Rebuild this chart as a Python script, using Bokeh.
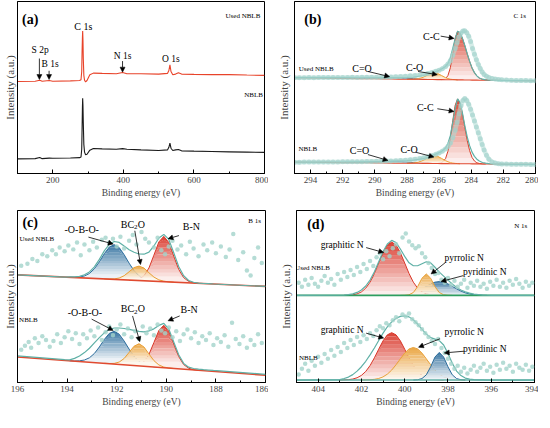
import numpy as np
from bokeh.plotting import figure
from bokeh.models import Range1d, Label, Arrow, NormalHead, FixedTicker, SingleIntervalTicker
from bokeh.layouts import row, column
from bokeh.embed import file_html
from bokeh.resources import INLINE

SERIF = "Liberation Serif"
TEAL = "#5fb0a6"
DOT = "#a3d3cb"

# ---------------- (a) survey ----------------
a_x = [100, 150, 163, 170, 190, 200, 250, 276, 280, 282, 283, 284, 284.7, 285.5, 286.5, 288, 290, 293, 297, 305,
       315, 340, 380, 398, 410, 450, 500, 525, 529, 532, 535, 540, 548, 556, 565, 600, 650, 700, 750, 800]
a_used = [94.7, 95.0, 96.0, 95.0, 95.7, 95.0, 95.3, 95.7, 96.5, 105, 125, 140, 146.7, 138, 118, 101, 96, 94.3, 95.7, 101.5,
          103.3, 103.0, 102.7, 104.0, 102.7, 102.7, 102.3, 103.0, 106.0, 111.7, 105.0, 101.7, 102.3, 103.7, 102.3, 102.0,
          101.7, 101.7, 101.3, 101.0]
a_nblb = [15.0, 15.3, 16.5, 15.3, 15.8, 15.7, 16.0, 16.3, 17.0, 25, 45, 68, 77.3, 70, 52, 30, 22, 19.3, 19.8, 24.0,
          25.7, 25.3, 25.0, 25.6, 25.0, 24.3, 23.7, 24.3, 27.0, 31.3, 26.0, 23.7, 24.3, 24.7, 23.3, 23.0, 22.7, 22.3,
          22.0, 21.7]

# ---------------- (b) C 1s ----------------
b_x = [295.0, 294.0, 293.0, 292.0, 291.0, 290.5, 290.0, 289.5, 289.0, 288.5, 288.0, 287.6, 287.3, 287.0, 286.7,
       286.4, 286.1, 285.85, 285.6, 285.45, 285.3, 285.15, 285.0, 284.85, 284.7, 284.55, 284.4, 284.25, 284.1,
       283.95, 283.8, 283.65, 283.5, 283.3, 283.1, 282.9, 282.6, 282.3, 282.0, 281.5, 281.0, 280.5, 280.0]
bu_base = [97.6, 97.4, 97.2, 97.0, 96.7, 96.6, 96.5, 96.4, 96.3, 96.2, 96.1, 96.0, 96.0, 95.9, 95.8, 95.8, 95.7,
           95.7, 95.6, 95.6, 95.5, 95.5, 95.5, 95.4, 95.4, 95.4, 95.3, 95.3, 95.3, 95.2, 95.2, 95.2, 95.1, 95.1,
           95.1, 95.0, 95.0, 94.9, 94.8, 94.7, 94.6, 94.5, 94.4]
bu_cc = [0] * 18 + [1.0, 4.2, 12.3, 26.7, 42.4, 49.5, 47.6, 42.4, 35.0, 26.7, 18.9, 12.3, 7.5, 4.2, 2.2, 0.8, 0.3,
                    0.1] + [0] * 7
bu_co = [0] * 11 + [0.1, 0.6, 2.1, 4.7, 6.8, 6.3, 4.2, 2.1, 1.2, 0.6, 0.3, 0.1] + [0] * 20
bu_ceo = [0] * 4 + [0.2, 0.5, 0.9, 1.3, 1.5, 1.3, 0.9, 0.6, 0.35, 0.2, 0.1] + [0] * 28
bu_env = [0.1, 0.3, 0.5, 0.7, 0.9, 1.0, 1.1, 1.3, 1.5, 1.6, 1.8, 2.2, 2.9, 4.0, 5.6, 7.4, 8.8, 10.8, 13.5, 16.5,
          22.5, 32.0, 42.0, 49.6, 48.2, 42.6, 35.2, 26.8, 19.0, 12.4, 7.6, 4.3, 2.3, 1.0, 0.4, 0.2, 0.1, 0.1, 0.1,
          0.0, 0.0, 0.0, 0.0]
bl_base = [11.6, 11.4, 11.3, 11.1, 11.0, 10.9, 10.8, 10.7, 10.6, 10.6, 10.5, 10.4, 10.4, 10.3, 10.3, 10.2, 10.2,
           10.1, 10.1, 10.1, 10.0, 10.0, 10.0, 10.0, 9.9, 9.9, 9.9, 9.9, 9.9, 9.8, 9.8, 9.8, 9.8, 9.7, 9.7, 9.7, 9.6,
           9.6, 9.5, 9.4, 9.4, 9.3, 9.2]
bl_cc = [0] * 17 + [0.7, 5.0, 12.6, 26.1, 43.7, 59.5, 66.0, 61.9, 51.1, 37.2, 23.8, 13.4, 6.6, 2.9, 1.1, 0.4,
                    0.1] + [0] * 9
bl_co = [0] * 11 + [0.3, 1.1, 3.0, 5.8, 7.8, 7.4, 5.3, 3.0, 1.9, 1.1, 0.6, 0.3, 0.1] + [0] * 19
bl_ceo = [0] * 4 + [0.2, 0.6, 1.1, 1.6, 1.8, 1.6, 1.1, 0.7, 0.4, 0.2, 0.1] + [0] * 28
bl_env = [0.1, 0.2, 0.4, 0.6, 0.9, 1.0, 1.2, 1.6, 2.0, 2.4, 2.7, 3.3, 4.0, 4.9, 6.3, 8.3, 10.3, 12.4, 15.9, 20.5,
          28.5, 42.0, 56.5, 66.0, 62.5, 52.0, 39.0, 27.5, 18.5, 12.0, 7.7, 4.8, 2.9, 1.5, 0.8, 0.4, 0.2, 0.1, 0.1,
          0.0, 0.0, 0.0, 0.0]
b_dx = [295.0, 294.7, 294.4, 294.1, 293.8, 293.5, 293.2, 292.9, 292.6, 292.3, 292.0, 291.7, 291.4, 291.1, 290.8,
        290.5, 290.2, 289.9, 289.6, 289.3, 289.0, 288.7, 288.4, 288.1, 287.8, 287.5, 287.2, 286.95, 286.7, 286.45,
        286.2, 286.0, 285.8, 285.6, 285.45, 285.3, 285.15, 285.0, 284.88, 284.76, 284.64, 284.52, 284.4, 284.28,
        284.16, 284.04, 283.92, 283.8, 283.68, 283.56, 283.44, 283.32, 283.2, 283.05, 282.9, 282.7, 282.5, 282.3,
        282.1, 281.8, 281.5, 281.2, 280.9, 280.6, 280.3, 280.0]
bu_dat = [97.7, 97.7, 97.7, 97.8, 97.7, 97.8, 97.8, 97.8, 97.9, 97.8, 97.9, 97.9, 98.0, 97.9, 98.0, 98.0, 98.1,
          98.1, 98.2, 98.3, 98.4, 98.6, 98.8, 99.1, 99.5, 99.9, 100.5, 101.2, 102.0, 103.0, 104.2, 105.3, 106.8,
          109.0, 111.5, 115.0, 120.5, 127.5, 133.5, 139.0, 143.0, 145.3, 145.5, 143.5, 140.0, 134.5, 127.5, 121.5,
          116.0, 111.0, 107.0, 103.5, 101.0, 99.0, 97.8, 96.8, 96.2, 95.8, 95.5, 95.2, 95.0, 94.9, 94.8, 94.7,
          94.6, 94.5]
bl_dat = [11.5, 11.5, 11.6, 11.6, 11.6, 11.7, 11.7, 11.7, 11.8, 11.8, 11.9, 11.9, 12.0, 12.0, 12.1, 12.2, 12.3,
          12.4, 12.5, 12.7, 12.8, 13.0, 13.3, 13.6, 14.0, 14.5, 15.2, 16.0, 17.0, 18.2, 19.6, 21.0, 22.8, 25.0,
          27.5, 31.0, 36.5, 44.0, 52.0, 61.0, 69.0, 74.5, 76.5, 74.5, 70.5, 65.5, 59.5, 53.5, 47.5, 41.5, 35.5,
          29.5, 24.0, 18.5, 14.5, 11.8, 10.6, 10.0, 9.8, 9.6, 9.5, 9.5, 9.4, 9.4, 9.3, 9.3]

# ---------------- (c) B 1s ----------------
c_ends_x = [196.0, 186.0]
c_x = [194.1, 193.9, 193.7, 193.5, 193.3, 193.1, 192.9, 192.7, 192.5, 192.3, 192.1, 191.9, 191.7, 191.5, 191.3,
       191.1, 190.9, 190.7, 190.5, 190.3, 190.1, 189.9, 189.7, 189.5, 189.3, 189.1, 188.9, 188.7, 188.5, 188.3, 188.1]
cu_ends = [111.6, 99.6]
cu_base = [109.3, 109.1, 108.8, 108.6, 108.4, 108.1, 107.9, 107.6, 107.4, 107.2, 106.9, 106.7, 106.4, 106.2, 106.0,
           105.7, 105.5, 105.2, 105.0, 104.8, 104.5, 104.3, 104.0, 103.8, 103.6, 103.3, 103.1, 102.8, 102.6, 102.4,
           102.1]
cu_bob = [0, 0, 0.2, 0.7, 2.0, 4.9, 10.0, 17.5, 26.1, 33.2, 36.0, 33.2, 26.1, 17.5, 10.0, 4.9, 2.0, 0.7, 0.2] + [0] * 12
cu_bc2o = [0] * 9 + [0.1, 0.5, 1.6, 4.3, 8.6, 13.1, 15.0, 13.1, 8.6, 4.3, 1.6, 0.5, 0.1] + [0] * 9
cu_bn = [0] * 14 + [0.3, 1.5, 5.1, 13.5, 27.0, 40.9, 47.0, 40.9, 27.0, 13.5, 5.1, 1.5, 0.3] + [0] * 4
cu_env = [0.0, 0.3, 0.6, 1.5, 3.2, 6.5, 12.0, 20.0, 29.0, 36.0, 39.3, 38.5, 35.0, 31.5, 29.0, 27.5, 27.5, 30.0,
          36.5, 45.0, 49.0, 44.0, 30.5, 16.5, 7.0, 2.5, 0.8, 0.2, 0.0, 0.0, 0.0]
cu_env_ends = [0.0, 0.0]
cl_ends = [26.5, 7.5]
cl_base = [22.9, 22.5, 22.1, 21.8, 21.4, 21.0, 20.6, 20.2, 19.9, 19.5, 19.1, 18.7, 18.3, 18.0, 17.6, 17.2, 16.8,
           16.4, 16.1, 15.7, 15.3, 14.9, 14.5, 14.2, 13.8, 13.4, 13.0, 12.6, 12.3, 11.9, 11.5]
cl_bob = [0, 0, 0.2, 0.7, 1.9, 4.6, 9.5, 16.6, 24.7, 31.4, 34.0, 31.4, 24.7, 16.6, 9.5, 4.6, 1.9, 0.7, 0.2] + [0] * 12
cl_bc2o = [0] * 9 + [0.2, 0.7, 2.5, 6.6, 13.2, 20.0, 23.0, 20.0, 13.2, 6.6, 2.5, 0.7, 0.2] + [0] * 9
cl_bn = [0] * 14 + [0.3, 1.4, 4.8, 12.7, 25.3, 38.3, 44.0, 38.3, 25.3, 12.7, 4.8, 1.4, 0.3] + [0] * 4
cl_env = [0.8, 1.0, 2.9, 5.7, 9.6, 14.5, 20.4, 26.3, 31.6, 35.5, 37.4, 37.8, 37.7, 37.0, 36.4, 35.8, 35.7, 37.1,
          39.5, 43.5, 46.0, 40.5, 27.5, 14.5, 6.0, 2.5, 1.5, 1.2, 1.0, 1.0, 1.0]
cl_env_ends = [1.0, 1.0]
cu_dx = [195.85, 195.6, 195.4, 195.2, 195.0, 194.8, 194.6, 194.45, 194.3, 194.1, 193.95, 193.75, 193.6, 193.45,
         193.3, 193.1, 192.95, 192.8, 192.6, 192.45, 192.3, 192.15, 192.0, 191.85, 191.7, 191.5, 191.35, 191.2,
         191.0, 190.85, 190.7, 190.5, 190.35, 190.2, 190.05, 189.9, 189.75, 189.55, 189.4, 189.2, 189.05, 188.9,
         188.7, 188.5, 188.35, 188.15, 188.0, 187.8, 187.6, 187.45, 187.3, 187.1, 186.9, 186.75, 186.6, 186.45,
         186.3, 186.15]
cu_dy = [121, 123, 128, 126, 133, 131, 137, 133, 140, 136, 142, 138, 145, 132, 143, 137, 146, 140, 148, 150, 145,
         149, 141, 151, 139, 147, 153, 143, 156, 149, 145, 140, 150, 137, 133, 141, 147, 138, 142, 133, 146, 139,
         131, 143, 137, 145, 134, 141, 130, 138, 154, 127, 135, 116, 111, 129, 140, 124]
cl_dx = [195.85, 195.7, 195.55, 195.45, 195.3, 195.15, 195.0, 194.85, 194.7, 194.55, 194.4, 194.25, 194.1, 193.95,
         193.8, 193.65, 193.5, 193.35, 193.2, 193.05, 192.9, 192.75, 192.6, 192.45, 192.3, 192.15, 192.0, 191.85,
         191.7, 191.55, 191.4, 191.25, 191.1, 190.95, 190.8, 190.65, 190.5, 190.35, 190.2, 190.05, 189.9, 189.75,
         189.6, 189.45, 189.3, 189.15, 189.0, 188.85, 188.7, 188.55, 188.4, 188.25, 188.1, 187.95, 187.8, 187.65,
         187.5, 187.35, 187.2, 187.05, 186.9, 186.75, 186.6, 186.45, 186.3, 186.15]
cl_dy = [34, 38, 42, 36, 46, 41, 48, 44, 37, 43, 50, 41, 47, 53, 45, 51, 40, 50, 46, 54, 48, 57, 44, 52, 58, 49, 55,
         60, 50, 56, 47, 53, 45, 58, 51, 56, 49, 60, 54, 51, 57, 47, 53, 43, 50, 55, 46, 52, 41, 48, 44, 51, 39, 46,
         42, 49, 37, 62, 45, 40, 48, 36, 44, 39, 50, 41]

# ---------------- (d) N 1s ----------------
d_ends_x = [405.0, 394.0]
d_x = [403.0, 402.8, 402.6, 402.4, 402.2, 402.0, 401.8, 401.6, 401.4, 401.2, 401.0, 400.8, 400.6, 400.4, 400.2,
       400.0, 399.8, 399.6, 399.4, 399.2, 399.0, 398.8, 398.6, 398.4, 398.2, 398.0, 397.8, 397.6, 397.4, 397.2,
       397.0, 396.8, 396.6, 396.4, 396.2, 396.0]
du_base = [88.3, 88.3]
du_gra = [0, 0, 0.2, 0.6, 1.5, 3.5, 7.3, 13.4, 22.2, 32.8, 43.3, 51.1, 54.0, 51.1, 43.3, 32.8, 22.2, 13.4, 7.3, 3.5,
          1.5, 0.6, 0.2] + [0] * 13
du_pyrr = [0] * 15 + [0.1, 0.6, 2.9, 8.9, 17.4, 21.7, 17.4, 8.9, 2.9, 0.6, 0.1] + [0] * 10
du_pyri = [0] * 13 + [0.1, 0.3, 0.7, 1.4, 2.5, 4.3, 6.6, 9.1, 11.6, 13.4, 14.0, 13.4, 11.6, 9.1, 6.6, 4.3, 2.5, 1.4,
                      0.7, 0.3, 0.1] + [0] * 2
du_env = [0.1, 0.3, 0.7, 1.5, 3.0, 5.5, 9.5, 15.5, 24.0, 34.0, 44.5, 52.0, 55.7, 53.5, 47.0, 39.5, 33.0, 30.0, 30.0,
          32.0, 34.0, 33.0, 28.5, 23.5, 19.5, 15.5, 11.5, 8.0, 5.5, 3.5, 2.2, 1.3, 0.7, 0.3, 0.1, 0.0]
dl_base = [2.5, 2.5]
dl_gra = [0, 0.2, 0.4, 1.0, 2.3, 4.7, 8.7, 14.7, 22.5, 31.3, 39.7, 45.8, 48.0, 45.8, 39.7, 31.3, 22.5, 14.7, 8.7,
          4.7, 2.3, 1.0, 0.4, 0.2] + [0] * 12
dl_pyrr = [0] * 6 + [0.1, 0.3, 0.7, 1.6, 3.2, 6.0, 10.1, 15.5, 21.5, 27.3, 31.5, 33.0, 31.5, 27.3, 21.5, 15.5, 10.1,
                     6.0, 3.2, 1.6, 0.7, 0.3, 0.1] + [0] * 7
dl_pyri = [0] * 18 + [0.3, 1.5, 5.3, 13.4, 23.3, 28.0, 23.3, 13.4, 5.3, 1.5, 0.3] + [0] * 7
dl_env = [0.5, 1.5, 3.0, 5.5, 9.0, 13.5, 19.0, 25.5, 32.5, 40.0, 47.5, 54.0, 59.0, 62.5, 64.5, 65.0, 64.0, 61.0,
          56.5, 51.5, 46.5, 43.0, 41.5, 40.0, 35.5, 27.0, 17.0, 9.0, 4.5, 2.0, 1.0, 0.5, 0.2, 0.1, 0.0, 0.0]
d_dx = [404.9, 404.75, 404.6, 404.45, 404.3, 404.15, 404.0, 403.85, 403.7, 403.55, 403.4, 403.25, 403.1, 402.95,
        402.8, 402.65, 402.5, 402.35, 402.2, 402.05, 401.9, 401.75, 401.6, 401.45, 401.3, 401.15, 401.0, 400.85,
        400.7, 400.55, 400.4, 400.25, 400.1, 399.95, 399.8, 399.65, 399.5, 399.35, 399.2, 399.05, 398.9, 398.75,
        398.6, 398.45, 398.3, 398.15, 398.0, 397.85, 397.7, 397.55, 397.4, 397.25, 397.1, 396.95, 396.8, 396.65,
        396.5, 396.35, 396.2, 396.05, 395.9, 395.75, 395.6, 395.45, 395.3, 395.15, 395.0, 394.85, 394.7, 394.55,
        394.4, 394.25, 394.1]
du_dy = [101, 97, 104, 99, 106, 100, 97, 103, 108, 101, 105, 99, 110, 104, 112, 107, 114, 109, 117, 112, 120, 115,
         123, 118, 127, 131, 125, 133, 128, 136, 140, 131, 147, 151, 143, 139, 136, 138, 131, 127, 121, 116, 110,
         111, 104, 101, 106, 99, 103, 97, 100, 104, 96, 101, 98, 103, 97, 100, 95, 102, 98, 104, 97, 101, 96, 103,
         99, 105, 100, 96, 102, 98, 101]
dl_dy = [8, 14, 19, 12, 22, 17, 26, 20, 29, 24, 33, 27, 36, 31, 40, 35, 43, 38, 46, 41, 48, 44, 50, 47, 53, 57, 55,
         60, 58, 63, 66, 62, 69, 67, 70, 64, 61, 58, 54, 50, 46, 42, 39, 44, 35, 30, 24, 19, 14, 17, 11, 15, 9, 13,
         17, 11, 15, 19, 12, 16, 10, 18, 13, 20, 14, 17, 11, 19, 15, 13, 18, 12, 16]


# ---------------- helpers ----------------
def blend(color, t):
    h = color.lstrip("#")
    r, g, b = (int(h[i:i + 2], 16) for i in (0, 2, 4))
    return "#%02x%02x%02x" % (round(255 + (r - 255) * t), round(255 + (g - 255) * t), round(255 + (b - 255) * t))


def make_panel(x0, x1, ymax, fw, bl, br, bt, bb, interval, ystand):
    p = figure(frame_width=fw, frame_height=172, x_range=Range1d(x0, x1), y_range=Range1d(0, ymax),
               output_backend="svg", toolbar_location=None,
               min_border_left=bl, min_border_right=br, min_border_top=bt, min_border_bottom=bb)
    p.xgrid.visible = False
    p.ygrid.visible = False
    p.outline_line_color = "black"
    p.outline_line_width = 1
    p.outline_line_alpha = 1.0
    xa = p.xaxis[0]
    xa.ticker = SingleIntervalTicker(interval=interval, num_minor_ticks=2)
    xa.axis_label = "Binding energy (eV)"
    xa.axis_label_text_font = SERIF
    xa.axis_label_text_font_size = "9.5px"
    xa.axis_label_text_font_style = "normal"
    xa.axis_label_standoff = 2
    xa.major_label_text_font = SERIF
    xa.major_label_text_font_size = "9px"
    xa.major_label_standoff = 3
    xa.major_tick_in = 4
    xa.major_tick_out = 0
    xa.minor_tick_in = 2
    xa.minor_tick_out = 0
    xa.axis_line_color = "black"
    ya = p.yaxis[0]
    ya.ticker = FixedTicker(ticks=[])
    ya.axis_label = "Intensity (a.u.)"
    ya.axis_label_text_font = SERIF
    ya.axis_label_text_font_size = "11px"
    ya.axis_label_text_font_style = "normal"
    ya.axis_label_standoff = ystand
    ya.major_label_standoff = 0
    ya.major_tick_in = 0
    ya.major_tick_out = 0
    ya.minor_tick_in = 0
    ya.minor_tick_out = 0
    return p


def component(p, x, base, comp, color, n=12):
    x = np.asarray(x, dtype=float)
    comp = np.asarray(comp, dtype=float)
    base = np.broadcast_to(np.asarray(base, dtype=float), x.shape)
    nz = np.nonzero(comp > 0)[0]
    lo = max(nz[0] - 1, 0)
    hi = min(nz[-1] + 2, len(x))
    xs, bs = x[lo:hi], base[lo:hi]
    ts = bs + comp[lo:hi]
    b0, t0 = bs.max(), ts.max()
    for k in range(n):
        l0 = b0 + (t0 - b0) * k / n
        l1 = b0 + (t0 - b0) * (k + 1) / n
        y1 = bs if k == 0 else np.minimum(ts, l0)
        y2 = ts if k == n - 1 else np.minimum(ts, l1 + 0.15)
        p.varea(x=xs, y1=y1, y2=y2, fill_color=blend(color, 0.05 + 0.9 * (k + 0.5) / n), fill_alpha=1.0)
    p.line(xs, ts, line_color=color, line_width=1.0)


def T(p, x, y, s, size="10px", bold=False, align="center", dx=0, dy=0):
    p.add_layout(Label(x=x, y=y, text=s, text_font=SERIF, text_font_size=size, text_align=align,
                       text_baseline="middle", text_color="black", x_offset=dx, y_offset=dy,
                       text_font_style="bold" if bold else "normal"))


def T_sub(p, x, y):
    # "BC" + subscript "2" + "O", centred on x
    T(p, x, y, "BC", "10px", align="right", dx=1)
    T(p, x, y, "2", "7px", align="left", dx=1, dy=-3)
    T(p, x, y, "O", "10px", align="left", dx=4.6)


def A(p, x0, y0, x1, y1):
    p.add_layout(Arrow(end=NormalHead(size=5, fill_color="black", line_color="black", line_width=0.5),
                       x_start=x0, y_start=y0, x_end=x1, y_end=y1, line_color="black", line_width=0.8))


# ---------------- panel (a) ----------------
pa = make_panel(100, 800, 177, 247, 13, 4, 1, 31, 200, 2)
pa.line(a_x, a_used, line_color="#e8432a", line_width=1.1)
pa.line(a_x, a_nblb, line_color="#1a1a1a", line_width=1.1)
T(pa, 135.8, 158.3, "(a)", "14px", True)
T(pa, 738.8, 162.3, "Used NBLB", "7px")
T(pa, 769, 81, "NBLB", "7px")
T(pa, 286.5, 151.7, "C 1s", "10px")
T(pa, 164, 126.7, "S 2p", "9.5px")
T(pa, 192.3, 112.3, "B 1s", "9.5px")
T(pa, 397.7, 120.7, "N 1s", "9.5px")
T(pa, 534.3, 118.3, "O 1s", "9.5px")
A(pa, 162, 118.3, 162, 96.7)
A(pa, 189.5, 105.7, 189.5, 96.7)
A(pa, 397.7, 115.7, 397.7, 104.3)

# ---------------- panel (b) ----------------
pb = make_panel(295, 280, 175.3, 241, 26, 3, 1, 31, 2, 5)
for base, cc, co, ceo, env, dat in [(bu_base, bu_cc, bu_co, bu_ceo, bu_env, bu_dat),
                                    (bl_base, bl_cc, bl_co, bl_ceo, bl_env, bl_dat)]:
    component(pb, b_x, base, ceo, "#3d6fb0")
    component(pb, b_x, base, cc, "#d8402c")
    component(pb, b_x, base, co, "#eea33a")
    pb.line(b_x, base, line_color="#e04a30", line_width=1.1)
    pb.line(b_x, list(np.array(base) + np.array(env)), line_color=TEAL, line_width=1.2)
    pb.line(b_dx, dat, line_color="#b3dcd6", line_width=4.5, line_alpha=0.55)
    pb.scatter(b_dx, dat, size=5, fill_color="#9fd1ca", line_color=None, fill_alpha=0.6)
T(pb, 293.86, 157.3, "(b)", "14px", True)
T(pb, 280.98, 160.7, "C 1s", "7px")
T(pb, 293.65, 106, "Used NBLB", "7px")
T(pb, 294.17, 25, "NBLB", "7px")
T(pb, 286.48, 139.3, "C-C")
A(pb, 285.9, 140, 285.07, 137.7)
T(pb, 287.52, 108, "C-O")
A(pb, 287.31, 104, 286.11, 100.7)
T(pb, 290.8, 106.7, "C=O")
A(pb, 290.43, 104, 289.08, 98.7)
T(pb, 286.86, 67.3, "C-C")
A(pb, 286.11, 66, 285.07, 63.3)
T(pb, 287.87, 24.7, "C-O")
A(pb, 287.46, 21.7, 286.32, 16.7)
T(pb, 290.95, 23.3, "C=O")
A(pb, 290.43, 19.3, 289.18, 13.3)

# ---------------- panel (c) ----------------
pc = make_panel(196, 186, 178.3, 248, 13, 3, 6, 30, 2, 2)
for ends, base, bob, bc2o, bn, env, eends, dx, dy in [
        (cu_ends, cu_base, cu_bob, cu_bc2o, cu_bn, cu_env, cu_env_ends, cu_dx, cu_dy),
        (cl_ends, cl_base, cl_bob, cl_bc2o, cl_bn, cl_env, cl_env_ends, cl_dx, cl_dy)]:
    component(pc, c_x, base, bob, "#2f6f9e")
    component(pc, c_x, base, bn, "#d9382a")
    component(pc, c_x, base, bc2o, "#eaa035")
    pc.line(c_ends_x, ends, line_color="#e04a30", line_width=1.6)
    ex = [c_ends_x[0]] + c_x + [c_ends_x[1]]
    ey = [ends[0] + eends[0]] + list(np.array(base) + np.array(env)) + [ends[1] + eends[1]]
    pc.line(ex, ey, line_color=TEAL, line_width=1.2)
    pc.scatter(dx, dy, size=4.5, fill_color=DOT, line_color=None, fill_alpha=0.8)
T(pc, 195.49, 165.7, "(c)", "14px", True)
T(pc, 186.44, 167.3, "B 1s", "7px")
T(pc, 195.22, 149, "Used NBLB", "7px")
T(pc, 195.56, 65, "NBLB", "7px")
T(pc, 193.41, 158.3, "-O-B-O-")
A(pc, 193.14, 150.7, 192.14, 143.5)
T_sub(pc, 191.34, 164)
A(pc, 191.27, 157.3, 191.04, 122.3)
T(pc, 188.99, 161.7, "B-N")
A(pc, 189.49, 152.3, 189.93, 149)
T(pc, 193.28, 72.3, "-O-B-O-")
A(pc, 193.01, 65.7, 192.14, 54)
T_sub(pc, 191.34, 76.3)
A(pc, 191.36, 69, 191.07, 42.3)
T(pc, 189.08, 75.7, "B-N")
A(pc, 189.46, 69, 189.93, 64)

# ---------------- panel (d) ----------------
pd_ = make_panel(405, 394, 174.3, 238, 28, 4, 6, 30, 2, 5)
component(pd_, d_x, du_base[0], du_pyri, "#2f6e9c")
component(pd_, d_x, du_base[0], du_gra, "#d9382a")
component(pd_, d_x, du_base[0], du_pyrr, "#e9a23a")
pd_.line(d_ends_x, du_base, line_color="#2e9e60", line_width=1.6)
pd_.line([d_ends_x[0]] + d_x + [d_ends_x[1]],
         [du_base[0]] + list(du_base[0] + np.array(du_env)) + [du_base[1]], line_color=TEAL, line_width=1.2)
pd_.scatter(d_dx, du_dy, size=4.5, fill_color=DOT, line_color=None, fill_alpha=0.8)
component(pd_, d_x, dl_base[0], dl_gra, "#d9382a")
component(pd_, d_x, dl_base[0], dl_pyrr, "#e9a23a")
component(pd_, d_x, dl_base[0], dl_pyri, "#2f6e9c")
pd_.line(d_ends_x, dl_base, line_color=TEAL, line_width=1.6)
pd_.line([d_ends_x[0]] + d_x + [d_ends_x[1]],
         [dl_base[0]] + list(dl_base[0] + np.array(dl_env)) + [dl_base[1]], line_color=TEAL, line_width=1.2)
pd_.scatter(d_dx, dl_dy, size=4.5, fill_color=DOT, line_color=None, fill_alpha=0.8)
T(pd_, 404.11, 160, "(d)", "14px", True)
T(pd_, 394.64, 159, "N 1s", "7px")
T(pd_, 404.26, 115.7, "Used NBLB", "7px")
T(pd_, 404.45, 25, "NBLB", "7px")
T(pd_, 402.89, 139, "graphitic N", "9.5px")
A(pd_, 401.78, 136.7, 400.97, 131.7)
T(pd_, 397.25, 125.7, "pyrrolic N", "9.5px")
A(pd_, 398.11, 121.7, 398.78, 110)
T(pd_, 396.3, 112.3, "pyridinic N", "9.5px")
A(pd_, 397.29, 108.3, 398.32, 102.3)
T(pd_, 402.89, 53.3, "graphitic N", "9.5px")
A(pd_, 401.78, 50, 400.97, 45)
T(pd_, 397.25, 50.7, "pyrrolic N", "9.5px")
A(pd_, 398.37, 44.3, 399.36, 35.7)
T(pd_, 396.3, 34.3, "pyridinic N", "9.5px")
A(pd_, 397.25, 31.7, 398.17, 30)

layout = column(row(pa, pb), row(pc, pd_))
open("out.html", "w").write(file_html(layout, INLINE))
